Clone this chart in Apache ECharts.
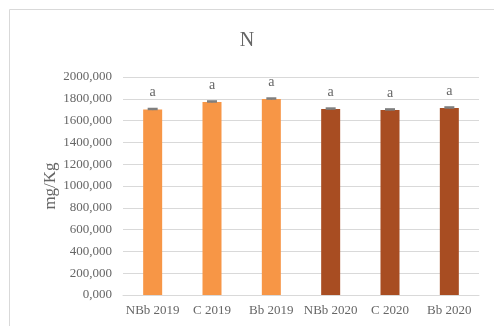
<!DOCTYPE html>
<html><head><meta charset="utf-8">
<script src="https://cdn.jsdelivr.net/npm/echarts@6/dist/echarts.min.js"></script>
<style>html,body{margin:0;padding:0;background:#fff}#c{width:494px;height:326px}</style>
</head><body><div id="c"></div>
<script>
const categories = ['NBb 2019','C 2019','Bb 2019','NBb 2020','C 2020','Bb 2020'];
const values = [1702, 1771, 1798, 1706, 1698, 1716];
const errors = [6, 6, 6, 6, 6, 6];
const letters = ['a','a','a','a','a','a'];
const colors = ['#F79646','#F79646','#F79646','#A84D22','#A84D22','#A84D22'];
const yTicks = [0,200,400,600,800,1000,1200,1400,1600,1800,2000];

const fmt = v => v.toFixed(3).replace('.', ',');
const chart = echarts.init(document.getElementById('c'));
const serif = '"Liberation Serif","Times New Roman",serif';
const txt = '#666666';
chart.setOption({
  animation: false,
  title: {text: 'N', left: 'center', top: 26, textStyle: {fontFamily: serif, fontSize: 20, fontWeight: 'normal', color: txt}},
  graphic: [{type: 'rect', shape: {x: 9.5, y: 9.5, width: 490, height: 330}, style: {fill: 'none', stroke: '#D9D9D9', lineWidth: 1}}],
  grid: {left: 123, right: 15, top: 77, bottom: 31},
  xAxis: {type: 'category', data: categories,
    axisLine: {lineStyle: {color: '#D9D9D9'}}, axisTick: {show: false},
    axisLabel: {fontFamily: serif, fontSize: 13, color: txt, margin: 9, interval: 0}},
  yAxis: {type: 'value', min: 0, max: 2000, interval: 200,
    name: 'mg/Kg', nameLocation: 'middle', nameGap: 64, nameRotate: 90, nameMoveOverlap: false,
    nameTextStyle: {fontFamily: serif, fontSize: 17, color: txt},
    axisLine: {show: false}, axisTick: {show: false},
    splitLine: {lineStyle: {color: '#D9D9D9'}},
    axisLabel: {fontFamily: serif, fontSize: 13, color: txt, formatter: v => fmt(v), margin: 11}},
  series: [{
    type: 'bar', barWidth: 19,
    data: values.map((v, i) => ({value: v, itemStyle: {color: colors[i]}})),
    label: {show: true, position: 'top', distance: 10, formatter: p => letters[p.dataIndex],
      fontFamily: serif, fontSize: 14, color: txt}
  }, {
    type: 'custom',
    renderItem: (params, api) => {
      const i = api.value(0);
      const hi = api.coord([i, api.value(1) + api.value(2)]);
      const lo = api.coord([i, api.value(1) - api.value(2)]);
      const mid = api.coord([i, api.value(1)]);
      return {type: 'group', children: [
        {type: 'line', shape: {x1: mid[0]-5, y1: mid[1]-0.5, x2: mid[0]+5, y2: mid[1]-0.5}, style: {stroke: '#7F7F7F', lineWidth: 2.5}},
        {type: 'line', shape: {x1: mid[0], y1: hi[1], x2: mid[0], y2: lo[1]}, style: {stroke: '#7F7F7F', lineWidth: 1}}
      ]};
    },
    data: values.map((v, i) => [i, v, errors[i]]), z: 10
  }]
});
</script></body></html>
